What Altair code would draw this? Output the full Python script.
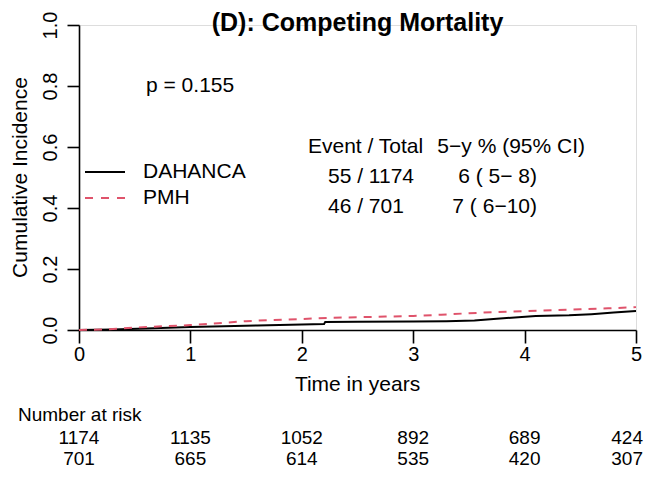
import altair as alt
import pandas as pd

# ---- data ----
dah_t = [0, 0.3, 0.6, 1.0, 1.3, 1.6, 2.0, 2.2, 2.21, 2.5, 3.0, 3.3, 3.55, 3.75, 4.1, 4.4, 4.6, 4.8, 5.0]
dah_y = [0, 0.002, 0.005, 0.010, 0.012, 0.015, 0.018, 0.020, 0.026, 0.027, 0.028, 0.029, 0.031, 0.037, 0.046, 0.048, 0.052, 0.057, 0.062]
pmh_t = [0, 0.25, 0.5, 0.75, 1.0, 1.25, 1.5, 1.75, 2.0, 2.25, 2.5, 2.75, 3.0, 3.25, 3.5, 3.75, 4.0, 4.25, 4.5, 4.75, 5.0]
pmh_y = [0, 0.002, 0.008, 0.012, 0.016, 0.022, 0.029, 0.033, 0.036, 0.040, 0.042, 0.044, 0.046, 0.050, 0.055, 0.059, 0.062, 0.065, 0.068, 0.071, 0.075]

risk_times = [0, 1, 2, 3, 4]
risk_dah = [1174, 1135, 1052, 892, 689]
risk_pmh = [701, 665, 614, 535, 420]
risk_last = [424, 307]   # values at t = 5 (right edge)

groups = ["DAHANCA", "PMH"]
table_header1 = "Event / Total"
table_header2 = "5\u2212y % (95% CI)"
table_col1 = ["55 / 1174", "46 / 701"]
table_col2 = ["6 ( 5\u2212 8)", "7 ( 6\u221210)"]
p_text = "p = 0.155"
title_text = "(D): Competing Mortality"

FONT = "Liberation Sans"
RED = "#DF536B"

# ---- geometry (screen px -> plot group px) ----
OX, OY = 79, 25          # screen position of plot origin (x=0, y=1)
W, H = 557, 305
SVG_W, SVG_H = 636, 462


def gx(x):
    return x - OX


def gy(y):
    return y - OY


df_dah = pd.DataFrame({"t": dah_t, "y": dah_y, "g": groups[0]})
df_pmh = pd.DataFrame({"t": pmh_t, "y": pmh_y, "g": groups[1]})

xscale = alt.Scale(domain=[0, 5], nice=False, zero=False)
yscale = alt.Scale(domain=[0, 1], nice=False)

xaxis = alt.Axis(values=[0, 1, 2, 3, 4, 5], format="d", title=None, grid=False,
                 domainColor="black", domainWidth=1.6, tickColor="black", tickWidth=1.6,
                 tickSize=13, labelFontSize=20, labelFont=FONT, labelColor="black",
                 labelPadding=1, labelBaseline="top", labelFlush=False)
yaxis = alt.Axis(values=[0, 0.2, 0.4, 0.6, 0.8, 1.0], format=".1f", title=None, grid=False,
                 domainColor="black", domainWidth=1.6, tickColor="black", tickWidth=1.6,
                 tickSize=12, labelFontSize=20, labelFont=FONT, labelColor="black",
                 labelAngle=270, labelAlign="center", labelBaseline="middle",
                 labelPadding=17, labelFlush=False)

line_dah = alt.Chart(df_dah).mark_line(color="black", strokeWidth=2).encode(
    x=alt.X("t:Q", scale=xscale, axis=xaxis),
    y=alt.Y("y:Q", scale=yscale, axis=yaxis),
)
line_pmh = alt.Chart(df_pmh).mark_line(color=RED, strokeWidth=2, strokeDash=[8, 7]).encode(
    x=alt.X("t:Q", scale=xscale),
    y=alt.Y("y:Q", scale=yscale),
)


def txt(text, x, y, size=21, align="left", baseline="middle", weight="normal", angle=0):
    kw = dict(text=text, font=FONT, fontSize=size, align=align, baseline=baseline,
              fontWeight=weight, color="black")
    if angle:
        kw["angle"] = angle
    return alt.Chart(pd.DataFrame({"a": [0]})).mark_text(**kw).encode(
        x=alt.value(gx(x)), y=alt.value(gy(y)))


layers = [line_dah, line_pmh]

# title
layers.append(txt(title_text, 357.5, 31, size=25, align="center", baseline="alphabetic", weight="bold"))
# axis titles
layers.append(txt("Cumulative Incidence", 21, 177.5, size=21, align="center", angle=270))
layers.append(txt("Time in years", 357.5, 385, size=21, align="center"))
# p-value
layers.append(txt(p_text, 146, 86))
# legend
layers.append(alt.Chart(pd.DataFrame({"a": [0]})).mark_rule(color="black", strokeWidth=2).encode(
    x=alt.value(gx(85)), x2=alt.value(gx(125)), y=alt.value(gy(172))))
layers.append(alt.Chart(pd.DataFrame({"a": [0]})).mark_rule(color=RED, strokeWidth=2, strokeDash=[8, 8]).encode(
    x=alt.value(gx(85)), x2=alt.value(gx(125)), y=alt.value(gy(198))))
layers.append(txt(groups[0], 143, 172))
layers.append(txt(groups[1], 143, 198))
# table
layers.append(txt(table_header1, 308, 147))
layers.append(txt(table_header2, 585, 147, align="right"))
layers.append(txt(table_col1[0], 328, 177))
layers.append(txt(table_col1[1], 328, 207))
layers.append(txt(table_col2[0], 537, 177, align="right"))
layers.append(txt(table_col2[1], 537, 207, align="right"))
# number at risk
ROW1, ROW2 = 438, 459
layers.append(txt("Number at risk", 18, 415, size=19))
risk_df = pd.DataFrame({"t": risk_times, "d": risk_dah, "p": risk_pmh})
layers.append(alt.Chart(risk_df).mark_text(font=FONT, fontSize=19, color="black", baseline="middle").encode(
    x=alt.X("t:Q", scale=xscale), y=alt.value(gy(ROW1)), text="d:Q"))
layers.append(alt.Chart(risk_df).mark_text(font=FONT, fontSize=19, color="black", baseline="middle").encode(
    x=alt.X("t:Q", scale=xscale), y=alt.value(gy(ROW2)), text="p:Q"))
last_df = pd.DataFrame({"t": [5, 5], "n": risk_last, "row": [ROW1, ROW2]})
for i in range(2):
    layers.append(alt.Chart(last_df.iloc[[i]]).mark_text(font=FONT, fontSize=19, color="black",
                                                          baseline="middle", align="right", dx=7).encode(
        x=alt.X("t:Q", scale=xscale), y=alt.value(gy(last_df["row"].iloc[i])), text="n:Q"))

chart = alt.layer(*layers).properties(
    width=W, height=H,
    autosize=alt.AutoSizeParams(type="none"),
    padding={"left": OX - 8, "top": OY - 8, "right": SVG_W - (OX - 8) - W, "bottom": SVG_H - (OY - 8) - H},
).configure_view(stroke=None).configure(background="white")

chart.save("out.html", embed_options={"renderer": "svg", "actions": False})
